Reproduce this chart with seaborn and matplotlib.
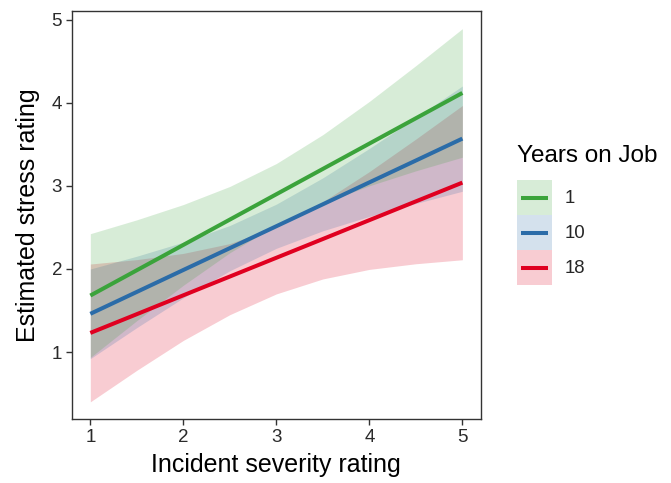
import matplotlib
matplotlib.use("Agg")
import matplotlib.pyplot as plt
import seaborn as sns
import pandas as pd
from matplotlib.patches import Rectangle
from matplotlib.lines import Line2D
from matplotlib.legend_handler import HandlerBase

# ---- data ----
severity = [1, 1.5, 2, 2.5, 3, 3.5, 4, 4.5, 5]
groups = ["1", "10", "18"]

est_1 = [1.68, 1.985, 2.29, 2.595, 2.90, 3.205, 3.51, 3.815, 4.12]
lo_1 = [0.935, 1.378, 1.804, 2.196, 2.53, 2.792, 3.002, 3.182, 3.346]
hi_1 = [2.425, 2.592, 2.776, 2.994, 3.27, 3.618, 4.018, 4.449, 4.894]

est_10 = [1.46, 1.724, 1.988, 2.251, 2.515, 2.779, 3.043, 3.306, 3.57]
lo_10 = [0.92, 1.294, 1.653, 1.979, 2.249, 2.46, 2.633, 2.789, 2.936]
hi_10 = [2.00, 2.154, 2.323, 2.524, 2.781, 3.098, 3.452, 3.823, 4.204]

est_18 = [1.23, 1.456, 1.683, 1.909, 2.135, 2.361, 2.588, 2.814, 3.04]
lo_18 = [0.40, 0.78, 1.14, 1.45, 1.70, 1.88, 1.995, 2.063, 2.111]
hi_18 = [2.06, 2.113, 2.188, 2.306, 2.509, 2.81, 3.173, 3.565, 3.969]

x_ticks = [1, 2, 3, 4, 5]
y_ticks = [1, 2, 3, 4, 5]

# ---- style ----
sns.set_theme(style="white")
plt.rcParams["font.family"] = ["Liberation Sans", "DejaVu Sans"]

colors = {"1": "#3BA33B", "10": "#2B6CA8", "18": "#E00020"}
alpha_fill = 0.2
line_w = 2.9

series = {
    "1": (est_1, lo_1, hi_1),
    "10": (est_10, lo_10, hi_10),
    "18": (est_18, lo_18, hi_18),
}

rows = []
for g in groups:
    for xv, yv in zip(severity, series[g][0]):
        rows.append({"severity": xv, "stress": yv, "years": g})
df = pd.DataFrame(rows)

fig = plt.figure(figsize=(6.71, 4.83), dpi=100)
ax = fig.add_axes([0.1069, 0.1319, 0.7168 - 0.1069, 0.9778 - 0.1319])

# draw order: 18, 10, 1 (ribbon then line)
for g in ["18", "10", "1"]:
    est, lo, hi = series[g]
    ax.fill_between(severity, lo, hi, color=colors[g], alpha=alpha_fill, linewidth=0)
    sns.lineplot(data=df[df["years"] == g], x="severity", y="stress",
                 color=colors[g], linewidth=line_w, ax=ax, legend=False,
                 solid_capstyle="butt")

ax.set_xlim(0.8, 5.2)
ax.set_ylim(0.19, 5.11)
ax.set_xticks(x_ticks)
ax.set_yticks(y_ticks)
ax.set_xticklabels([str(t) for t in x_ticks])
ax.set_yticklabels([str(t) for t in y_ticks])

for s in ax.spines.values():
    s.set_color("#333333")
    s.set_linewidth(1.0)

ax.tick_params(axis="both", which="major", direction="out", length=4, width=1,
               color="#333333", labelcolor="#2a2a2a", labelsize=13.5, pad=3,
               bottom=True, left=True)

ax.set_xlabel("Incident severity rating", fontsize=18, color="black", labelpad=5)
ax.set_ylabel("Estimated stress rating", fontsize=18, color="black", labelpad=8)


class KeyHandler(HandlerBase):
    def create_artists(self, legend, orig_handle, xdescent, ydescent,
                       width, height, fontsize, trans):
        c = orig_handle.get_color()
        rect = Rectangle((-xdescent, -ydescent), width, height,
                         facecolor=c, alpha=alpha_fill, edgecolor="none",
                         transform=trans)
        yc = -ydescent + height / 2
        x0 = -xdescent + 0.12 * width
        x1 = -xdescent + 0.88 * width
        ln = Line2D([x0, x1], [yc, yc], color=c, linewidth=line_w,
                    solid_capstyle="butt", transform=trans)
        return [rect, ln]


handles = [Line2D([], [], color=colors[g]) for g in groups]

fig.text(517 / 671, 1 - 145 / 483, "Years on Job", fontsize=17.5,
         color="black", ha="left", va="top")

leg = fig.legend(handles, groups,
                 handler_map={Line2D: KeyHandler()},
                 loc="upper left", bbox_to_anchor=(517 / 671, 1 - 180 / 483),
                 frameon=False, fontsize=13.4,
                 handlelength=1.88, handleheight=2.52, labelspacing=0.0,
                 handletextpad=0.7, borderpad=0.0, borderaxespad=0)

fig.savefig("out.png", dpi=100)
